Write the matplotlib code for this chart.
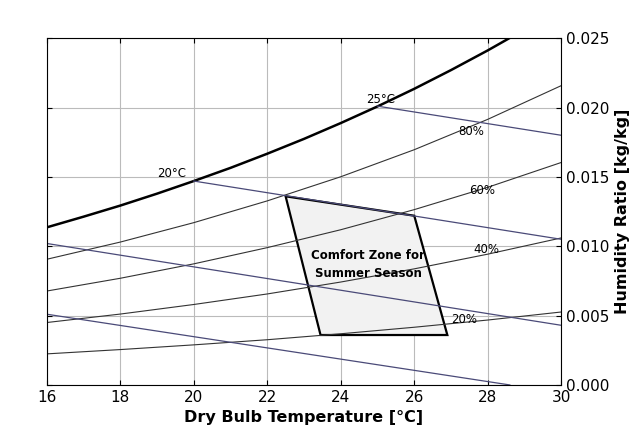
import matplotlib.pyplot as plt
import numpy as np

# dry bulb temperatures and humidity ratio [kg/kg] for each relative humidity curve
temps = [16, 17, 18, 19, 20, 21, 22, 23, 24, 25, 26, 27, 28, 29]
w_sat = [0.01136, 0.01213, 0.01293, 0.01379, 0.01470, 0.01565, 0.01667,
         0.01774, 0.01888, 0.02008, 0.02135, 0.02270, 0.02412, 0.02562]
t_rh = [16, 18, 20, 22, 24, 26, 28, 30]
w_80 = [0.00906, 0.01030, 0.01170, 0.01327, 0.01501, 0.01696, 0.01915, 0.02158]
w_60 = [0.00677, 0.00769, 0.00873, 0.00990, 0.01119, 0.01264, 0.01425, 0.01604]
w_40 = [0.00450, 0.00511, 0.00580, 0.00656, 0.00742, 0.00837, 0.00943, 0.01060]
w_20 = [0.00224, 0.00255, 0.00289, 0.00326, 0.00369, 0.00416, 0.00468, 0.00526]

# wet bulb lines (start / end points)
wb_lines = [
    ([20, 30], [0.0147, 0.0105]),
    ([25, 30], [0.0201, 0.0180]),
    ([16, 30], [0.0102, 0.0043]),
    ([16, 28.6], [0.0051, 0.0]),
]

# comfort zone corners
zone_t = [22.5, 26.0, 26.9, 23.45]
zone_w = [0.0136, 0.0122, 0.0036, 0.0036]

plt.rcParams['hatch.color'] = '#999999'
plt.rcParams['hatch.linewidth'] = 0.5

fig = plt.figure(figsize=(6.4, 4.44), dpi=100)
ax = fig.add_axes([0.073, 0.133, 0.804, 0.781])

ax.grid(True, color='#bbbbbb', linewidth=0.8)
ax.set_axisbelow(True)

ax.plot(temps, w_sat, color='black', linewidth=1.8)
for w in (w_80, w_60, w_40, w_20):
    ax.plot(t_rh, w, color='#333333', linewidth=0.8)
for t, w in wb_lines:
    ax.plot(t, w, color='#4a4a78', linewidth=0.9)

ax.fill(zone_t, zone_w, facecolor='#f2f2f2', edgecolor='none', hatch='..')
ax.fill(zone_t, zone_w, facecolor='none', edgecolor='black', linewidth=1.6)
ax.text(24.75, 0.0087, 'Comfort Zone for\nSummer Season', ha='center',
        va='center', fontsize=8.5, fontweight='bold', linespacing=1.5)

ax.text(19.0, 0.0150, '20°C', fontsize=8.5)
ax.text(24.7, 0.0203, '25°C', fontsize=8.5)
ax.text(27.2, 0.0180, '80%', fontsize=8.5)
ax.text(27.5, 0.0138, '60%', fontsize=8.5)
ax.text(27.6, 0.0095, '40%', fontsize=8.5)
ax.text(27.0, 0.0045, '20%', fontsize=8.5)

ax.set_xlim(16, 30)
ax.set_ylim(0, 0.025)
ax.set_xticks(range(16, 31, 2))
ax.set_yticks(np.arange(0, 0.0251, 0.005))
ax.yaxis.tick_right()
ax.yaxis.set_label_position('right')
ax.yaxis.set_major_formatter(plt.FormatStrFormatter('%.3f'))
ax.tick_params(labelsize=11, direction='in', left=True, right=True, top=True)
ax.set_xlabel('Dry Bulb Temperature [°C]', fontsize=11.5, fontweight='bold')
ax.set_ylabel('Humidity Ratio [kg/kg]', fontsize=11.5, fontweight='bold')

fig.savefig('out.png')
